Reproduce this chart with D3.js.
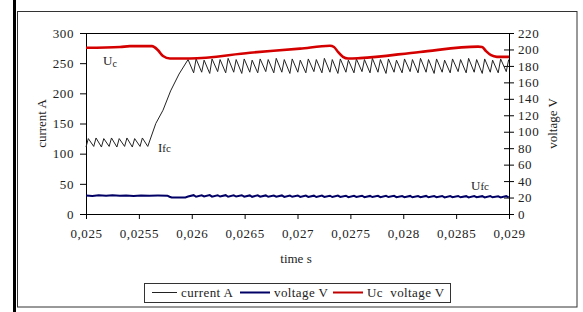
<!DOCTYPE html>
<html>
<head>
<meta charset="utf-8">
<script src="https://cdn.jsdelivr.net/npm/d3@7"></script>
<style>
  body { margin: 0; background: #fff; }
  svg text { font-family: "Liberation Serif", "DejaVu Serif", serif; font-size: 13px; fill: #222; }
  .tick text { letter-spacing: 0.6px; }
</style>
</head>
<body>
<div id="chart"></div>
<script>
// axis ticks
var timeTicks = [0.025, 0.0255, 0.026, 0.0265, 0.027, 0.0275, 0.028, 0.0285, 0.029];
var currentTicks = [0, 50, 100, 150, 200, 250, 300];
var voltageTicks = [0, 20, 40, 60, 80, 100, 120, 140, 160, 180, 200, 220];

// Ifc current, first part (low ripple + ramp)
var startTime = [0.025000, 0.025022, 0.025073, 0.025095, 0.025146, 0.025168, 0.025219, 0.025241,
                 0.025292, 0.025314, 0.025365, 0.025387, 0.025438, 0.025460, 0.025511, 0.025533,
                 0.025584, 0.025660, 0.025728, 0.025800, 0.025880];
var startCurrent = [111, 125, 112, 126, 111, 125, 112, 126,
                    111, 125, 112, 126, 111, 125, 112, 126,
                    112, 150, 172, 204, 232];

// second part: sawtooth section (peak / trough times)
var toothTime = [
  0.025965, 0.026018, 0.026041, 0.026094, 0.026117, 0.026170, 0.026192, 0.026245, 0.026268, 0.026321,
  0.026344, 0.026397, 0.026420, 0.026473, 0.026496, 0.026549, 0.026571, 0.026624, 0.026647, 0.026700,
  0.026723, 0.026776, 0.026799, 0.026852, 0.026875, 0.026928, 0.026950, 0.027003, 0.027026, 0.027079,
  0.027102, 0.027155, 0.027178, 0.027231, 0.027254, 0.027307, 0.027329, 0.027382, 0.027405, 0.027458,
  0.027481, 0.027534, 0.027557, 0.027610, 0.027633, 0.027686, 0.027708, 0.027761, 0.027784, 0.027837,
  0.027860, 0.027913, 0.027936, 0.027989, 0.028012, 0.028065, 0.028087, 0.028140, 0.028163, 0.028216,
  0.028239, 0.028292, 0.028315, 0.028368, 0.028391, 0.028444, 0.028466, 0.028519, 0.028542, 0.028595,
  0.028618, 0.028671, 0.028694, 0.028747, 0.028770, 0.028823, 0.028845, 0.028898, 0.028921, 0.028974,
  0.028997];
var toothCurrent = [
  256, 234, 257, 235, 255, 233, 257, 236, 256, 234,
  258, 235, 256, 233, 257, 235, 255, 234, 257, 236,
  256, 234, 258, 235, 256, 233, 257, 235, 255, 234,
  257, 236, 256, 234, 258, 235, 256, 233, 257, 235,
  255, 234, 257, 236, 256, 234, 258, 235, 256, 233,
  257, 235, 255, 234, 257, 236, 256, 234, 258, 235,
  256, 233, 257, 235, 255, 234, 257, 236, 256, 234,
  258, 235, 256, 233, 257, 235, 255, 234, 257, 236,
  256];

// Ufc voltage
var ufcStartTime = [0.025000, 0.025060, 0.025120, 0.025190, 0.025250, 0.025320, 0.025380, 0.025450,
                    0.025520, 0.025600, 0.025680, 0.025770, 0.025790, 0.025810, 0.025940];
var ufcStartVoltage = [22.5, 22.0, 22.8, 22.2, 22.7, 22.1, 22.6, 22.0,
                       22.5, 22.3, 22.4, 22.3, 21.0, 20.0, 20.1];
var toothUfc = [
  21.2, 22.9, 21.0, 22.8, 21.3, 23.0, 21.1, 22.8, 21.2, 22.9,
  21.0, 22.7, 21.2, 22.8, 21.1, 22.6, 20.9, 22.7, 21.0, 22.6,
  20.9, 22.5, 21.0, 22.6, 20.8, 22.4, 20.9, 22.5, 20.7, 22.4,
  20.8, 22.3, 20.6, 22.4, 20.8, 22.2, 20.6, 22.3, 20.7, 22.2,
  20.5, 22.1, 20.7, 22.2, 20.5, 22.0, 20.6, 22.1, 20.4, 22.0,
  20.6, 22.1, 20.4, 21.9, 20.5, 22.0, 20.3, 21.9, 20.5, 22.0,
  20.3, 21.8, 20.4, 21.9, 20.2, 21.8, 20.4, 21.9, 20.3, 21.7,
  20.2, 21.8, 20.4, 21.7, 20.2, 21.8, 20.3, 21.6, 20.2, 21.7,
  20.3];

// Uc voltage
var ucTime = [0.025000, 0.025322, 0.025416, 0.025624, 0.025681, 0.025728, 0.025794, 0.025983,
              0.026551, 0.027024, 0.027307, 0.027345, 0.027383, 0.027430, 0.027478, 0.027591,
              0.028158, 0.028707, 0.028745, 0.028783, 0.028830, 0.028886, 0.029000];
var ucVoltage = [202, 203, 204, 204, 199, 192, 189, 189,
                 196, 201, 204.5, 203, 197, 191, 189, 189.5,
                 197, 203.5, 203, 198, 193, 191, 191];

function pairs(ts, vs) {
  return ts.map(function(t, i) { return [t, vs[i]]; });
}

var currentData = pairs(startTime, startCurrent).concat(pairs(toothTime, toothCurrent));
var ufcData = pairs(ufcStartTime, ufcStartVoltage).concat(pairs(toothTime, toothUfc));
var ucData = pairs(ucTime, ucVoltage);

var W = 583, H = 312;
var plot = {left: 86, right: 509, top: 33, bottom: 214};

var svg = d3.select('#chart').append('svg')
    .attr('width', W)
    .attr('height', H);

svg.append('rect').attr('width', W).attr('height', H).attr('fill', '#fff');

// table border on the left + chart frame
svg.append('rect').attr('x', 13).attr('y', 0).attr('width', 3).attr('height', H).attr('fill', '#000');
svg.append('rect')
    .attr('x', 17.5).attr('y', 11.5)
    .attr('width', 559.5).attr('height', 295.5)
    .attr('fill', 'none').attr('stroke', '#333');

var x = d3.scaleLinear().domain([0.025, 0.029]).range([plot.left, plot.right]);
var yCur = d3.scaleLinear().domain([0, 300]).range([plot.bottom, plot.top]);
var yVol = d3.scaleLinear().domain([0, 220]).range([plot.bottom, plot.top]);

var fmt = function(d) { return String(+d.toFixed(4)).replace('.', ','); };

// plot frame
svg.append('rect')
    .attr('x', plot.left + 0.5).attr('y', plot.top + 0.5)
    .attr('width', plot.right - plot.left).attr('height', plot.bottom - plot.top)
    .attr('fill', 'none').attr('stroke', '#000');

// axes
svg.append('g')
    .attr('transform', 'translate(0,' + plot.bottom + ')')
    .call(d3.axisBottom(x).tickValues(timeTicks).tickFormat(fmt).tickSize(5).tickSizeOuter(0).tickPadding(10));

svg.append('g')
    .attr('transform', 'translate(' + plot.left + ',0)')
    .call(d3.axisLeft(yCur).tickValues(currentTicks).tickSize(6).tickSizeOuter(0).tickPadding(6));

var rightAxis = svg.append('g')
    .attr('transform', 'translate(' + plot.right + ',0)')
    .call(d3.axisRight(yVol).tickValues(voltageTicks).tickSize(5).tickSizeOuter(0).tickPadding(4));
rightAxis.selectAll('.tick line').attr('x1', -5);

svg.selectAll('.domain').attr('stroke', '#000');
svg.selectAll('.tick line').attr('stroke', '#000');

// axis titles
svg.append('text')
    .attr('transform', 'translate(46,' + (plot.top + plot.bottom) / 2 + ') rotate(-90)')
    .style('text-anchor', 'middle')
    .text('current A');

svg.append('text')
    .attr('transform', 'translate(557,' + (plot.top + plot.bottom) / 2 + ') rotate(-90)')
    .style('text-anchor', 'middle')
    .text('voltage V');

svg.append('text')
    .attr('x', 296).attr('y', 263)
    .style('text-anchor', 'middle')
    .text('time s');

// lines
var lineCur = d3.line()
    .x(function(d) { return x(d[0]); })
    .y(function(d) { return yCur(d[1]); });

var lineVol = d3.line()
    .x(function(d) { return x(d[0]); })
    .y(function(d) { return yVol(d[1]); });

svg.append('path')
    .datum(currentData)
    .attr('fill', 'none')
    .attr('stroke', '#222')
    .attr('stroke-width', 1)
    .attr('d', lineCur);

svg.append('path')
    .datum(ufcData)
    .attr('fill', 'none')
    .attr('stroke', '#000066')
    .attr('stroke-width', 2)
    .attr('d', lineVol);

svg.append('path')
    .datum(ucData)
    .attr('fill', 'none')
    .attr('stroke', '#d40000')
    .attr('stroke-width', 2.6)
    .attr('d', lineVol.curve(d3.curveMonotoneX));

// labels inside the plot
var uc = svg.append('text').attr('x', 103).attr('y', 65);
uc.append('tspan').text('U');
uc.append('tspan').attr('dy', 2).style('font-size', '10px').text('c');

var ifc = svg.append('text').attr('x', 158).attr('y', 152);
ifc.append('tspan').text('I');
ifc.append('tspan').style('font-size', '11px').text('fc');

var ufc = svg.append('text').attr('x', 471).attr('y', 190);
ufc.append('tspan').text('U');
ufc.append('tspan').style('font-size', '11px').text('fc');

// legend
var legendItems = [
  {label: 'current A', color: '#222', width: 1, x1: 152, x2: 177},
  {label: 'voltage V', color: '#000066', width: 2, x1: 240, x2: 270},
  {label: 'Uc  voltage V', color: '#c00000', width: 2, x1: 333, x2: 363}
];

svg.append('rect')
    .attr('x', 144.5).attr('y', 283.5)
    .attr('width', 306).attr('height', 19)
    .attr('fill', '#fff').attr('stroke', '#333');

var leg = svg.selectAll('.legend')
    .data(legendItems)
    .enter().append('g')
    .attr('class', 'legend');

leg.append('line')
    .attr('x1', function(d) { return d.x1; })
    .attr('x2', function(d) { return d.x2; })
    .attr('y1', 292.5).attr('y2', 292.5)
    .attr('stroke', function(d) { return d.color; })
    .attr('stroke-width', function(d) { return d.width; });

leg.append('text')
    .attr('x', function(d) { return d.x2 + 4; })
    .attr('y', 297)
    .style('white-space', 'pre')
    .style('letter-spacing', '0.4px')
    .text(function(d) { return d.label; });
</script>
</body>
</html>
